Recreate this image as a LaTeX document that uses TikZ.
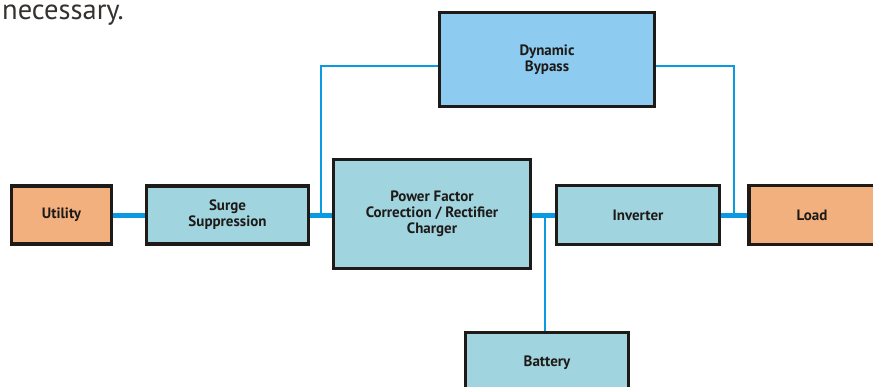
\documentclass[tikz,border=0pt]{standalone}
\usepackage{fontspec}
\setmainfont{PT Sans}
\definecolor{orangefill}{HTML}{F2B07E}
\definecolor{tealfill}{HTML}{A0D4DF}
\definecolor{skyfill}{HTML}{8DCBF0}
\definecolor{wire}{HTML}{0A9AE2}
\definecolor{edge}{HTML}{1E1A17}
\tikzset{
  blockbox/.style={draw=edge, line width=3.3pt, inner sep=0pt, align=center,
    font=\fontsize{15}{16}\selectfont\bfseries, text=edge},
  mainwire/.style={draw=wire, line width=5pt},
  thinwire/.style={draw=wire, line width=2.2pt},
}
\begin{document}
\begin{tikzpicture}[x=1pt,y=1pt]
\useasboundingbox (0,0) rectangle (873,-386);
\node[anchor=base west, inner sep=0pt, font=\fontsize{28.5}{30}\selectfont, text=edge!90!white] (cap) at (2,-19) {necessary.};
\node[blockbox, fill=orangefill, minimum width=100, minimum height=58] (utility) at (61.5,-215) {Utility};
\node[blockbox, fill=tealfill, minimum width=162, minimum height=58] (surge) at (227.5,-215) {Surge\\Suppression};
\node[blockbox, fill=tealfill, minimum width=197, minimum height=109] (pfc) at (432,-214) {Power Factor\\Correction / Rectifier\\Charger};
\node[blockbox, fill=tealfill, minimum width=163, minimum height=59] (inverter) at (638,-215) {Inverter};
\node[blockbox, fill=orangefill, minimum width=126, minimum height=59] (load) at (812,-215) {Load};
\node[blockbox, fill=tealfill, minimum width=163, minimum height=61] (battery) at (547,-363) {Battery};
\node[blockbox, fill=skyfill, minimum width=215, minimum height=94] (bypass) at (547,-59.5) {Dynamic\\Bypass};
\coordinate (jl) at (321,-215);
\coordinate (tl) at (321,-66);
\coordinate (jr) at (734,-215);
\coordinate (jb) at (545,-215);
\draw[mainwire] (utility.east |- jl) -- (surge.west |- jl);
\draw[mainwire] (surge.east |- jl) -- (pfc.west |- jl);
\draw[mainwire] (pfc.east |- jl) -- (inverter.west |- jl);
\draw[mainwire] (inverter.east |- jl) -- (load.west |- jl);
\draw[thinwire] (jl) -- (tl) -- (tl -| bypass.west);
\draw[thinwire] (bypass.east |- tl) -- (tl -| jr) -- (jr);
\draw[thinwire] (jb) -- (jb |- battery.north);
\end{tikzpicture}
\end{document}
